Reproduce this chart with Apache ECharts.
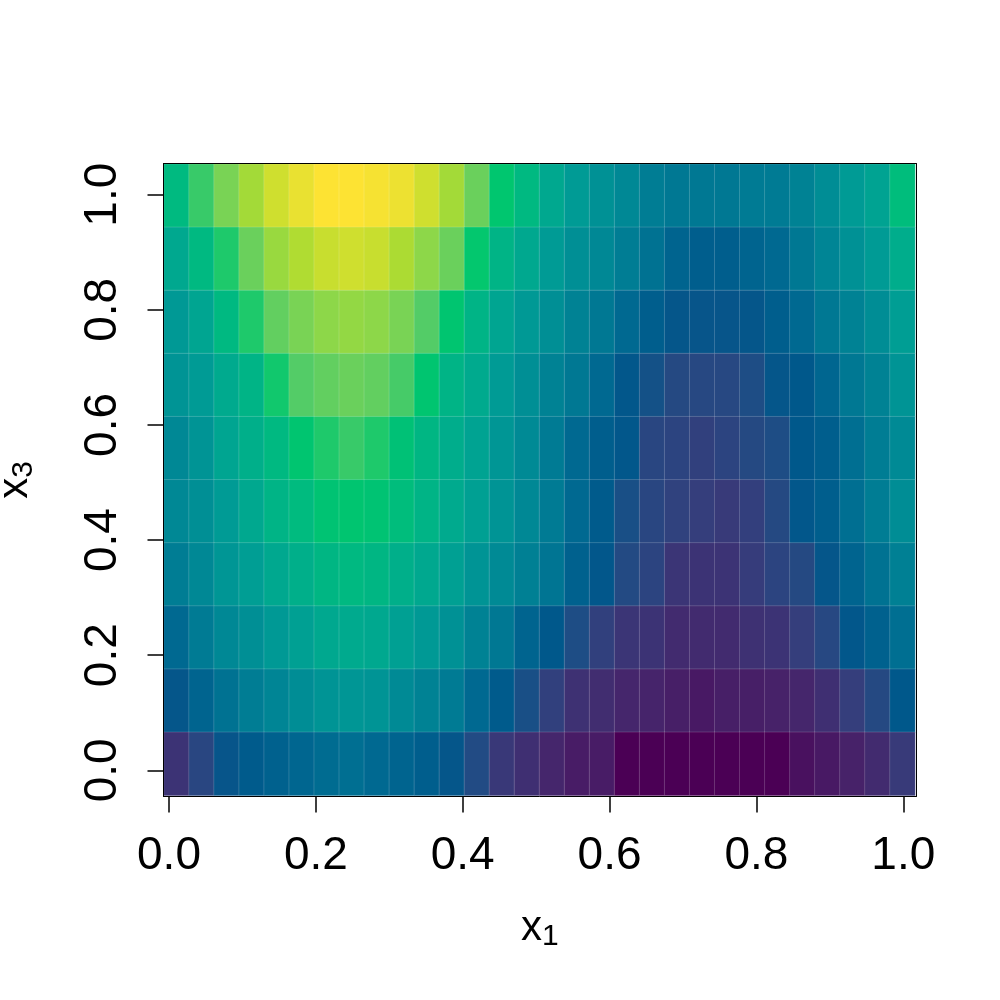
<!DOCTYPE html>
<html>
<head>
<meta charset="utf-8">
<style>html,body{margin:0;padding:0;background:#fff}#c{width:1000px;height:1000px}</style>
<script src="https://cdn.jsdelivr.net/npm/echarts@6/dist/echarts.min.js"></script>
</head>
<body>
<div id="c"></div>
<script>
// cell values, scaled 0..1 along the colour ramp, one array per x3 row (top row first)
const rowTop1 = [.625,.73,.80,.865,.93,.97,1,1,.99,.975,.93,.865,.78,.685,.62,.55,.50,.46,.42,.38,.36,.36,.36,.37,.37,.40,.44,.50,.53,.64];
const rowTop2 = [.55,.62,.71,.78,.85,.885,.92,.93,.92,.88,.83,.78,.69,.60,.55,.50,.45,.42,.38,.34,.29,.27,.27,.29,.31,.36,.41,.46,.50,.57];
const rowTop3 = [.49,.54,.62,.71,.77,.80,.83,.84,.83,.80,.75,.68,.60,.54,.49,.45,.40,.36,.31,.27,.24,.235,.235,.24,.27,.31,.36,.40,.44,.51];
const rowTop4 = [.47,.50,.56,.60,.70,.75,.77,.78,.77,.74,.68,.60,.56,.50,.45,.40,.36,.31,.245,.21,.17,.165,.165,.19,.24,.25,.30,.36,.40,.47];
const rowTop5 = [.42,.47,.54,.58,.62,.68,.71,.73,.71,.66,.61,.57,.53,.48,.43,.37,.31,.27,.245,.16,.15,.135,.15,.17,.19,.25,.27,.33,.38,.43];
const rowTop6 = [.42,.45,.50,.55,.60,.63,.67,.68,.67,.64,.60,.56,.52,.47,.42,.37,.31,.26,.20,.16,.14,.125,.115,.13,.17,.245,.27,.33,.38,.44];
const rowTop7 = [.38,.42,.48,.51,.55,.58,.61,.62,.61,.58,.55,.52,.47,.43,.39,.35,.28,.245,.175,.15,.105,.10,.10,.12,.15,.17,.24,.29,.34,.39];
const rowTop8 = [.31,.37,.42,.45,.49,.52,.55,.56,.55,.52,.49,.46,.40,.36,.29,.25,.19,.135,.105,.10,.08,.08,.08,.095,.10,.125,.165,.245,.28,.33];
const rowTop9 = [.24,.29,.34,.38,.41,.44,.47,.48,.47,.43,.40,.37,.31,.26,.20,.135,.095,.085,.07,.065,.055,.045,.055,.055,.06,.07,.09,.125,.17,.25];
const rowTop10 = [.10,.16,.235,.26,.28,.30,.32,.33,.31,.29,.27,.24,.18,.11,.09,.07,.05,.05,0,0,0,0,0,0,0,.03,.045,.06,.08,.115];
const rows = [rowTop1,rowTop2,rowTop3,rowTop4,rowTop5,rowTop6,rowTop7,rowTop8,rowTop9,rowTop10];

const tickValues = [0,0.2,0.4,0.6,0.8,1];
const rampColors = ['#4B0055','#47236A','#353E7C','#1F4D85','#00588B','#006A91','#007C94','#008C95','#009B95','#00AB8E','#00BA80','#00C76E','#53CC67','#82D551','#A9DB33','#D4DF2E','#FDE333'];

const xCats = rowTop1.map((_, i) => i);
const yCats = rows.map((_, i) => i);
const cells = [];
rows.forEach((r, j) => r.forEach((v, i) => cells.push([i, rows.length - 1 - j, v])));

const font = 'Liberation Sans, Arial, sans-serif';
const tickLabel = {fontFamily: font, fontSize: 46, color: '#000'};
const nameStyle = {
  rich: {
    v: {fontFamily: font, fontSize: 42, color: '#000'},
    s: {fontFamily: font, fontSize: 30, color: '#000', padding: [16, 0, 0, 0]}
  }
};
const hiddenCat = d => ({type: 'category', gridIndex: 0, data: d, show: false, boundaryGap: true});
const frame = (extra, min, max) => Object.assign({
  type: 'value', gridIndex: 1, min, max, z: 20, splitLine: {show: false},
  axisLine: {show: true, onZero: false, lineStyle: {color: '#000', width: 1}},
  axisTick: {show: false}, axisLabel: {show: false}
}, extra);
const xMin = -0.0075, xMax = 1.0173, yMin = -0.0455, yMax = 1.0542;

const chart = echarts.init(document.getElementById('c'), null, {renderer: 'canvas'});
chart.setOption({
  animation: false,
  backgroundColor: '#fff',
  grid: [
    {left: 164, top: 164.2, width: 751, height: 631.2, outerBoundsMode: 'none', containLabel: false},
    {left: 163.5, top: 163.5, width: 752.5, height: 633, outerBoundsMode: 'none', containLabel: false}
  ],
  visualMap: {show: false, min: 0, max: 1, dimension: 2, seriesIndex: 0, inRange: {color: rampColors}},
  xAxis: [
    hiddenCat(xCats),
    frame({
      position: 'bottom', name: '{v|x}{s|1}', nameLocation: 'middle', nameGap: 109, nameTextStyle: nameStyle,
      axisTick: {show: true, length: 16, inside: false, customValues: tickValues, lineStyle: {color: '#000', width: 1.5}},
      axisLabel: {show: true, margin: 37, customValues: tickValues, formatter: v => v.toFixed(1), ...tickLabel}
    }, xMin, xMax),
    frame({position: 'top'}, xMin, xMax)
  ],
  yAxis: [
    hiddenCat(yCats),
    frame({
      position: 'left', name: '{v|x}{s|3}', nameLocation: 'middle', nameGap: 125, nameRotate: 90, nameTextStyle: nameStyle,
      axisTick: {show: true, length: 16, inside: false, customValues: tickValues, lineStyle: {color: '#000', width: 1.5}},
      axisLabel: {show: true, margin: 60, rotate: 90, customValues: tickValues, formatter: v => v.toFixed(1), align: 'center', verticalAlign: 'middle', ...tickLabel}
    }, yMin, yMax),
    frame({position: 'right'}, yMin, yMax)
  ],
  series: [{
    type: 'heatmap', xAxisIndex: 0, yAxisIndex: 0, data: cells,
    itemStyle: {borderColor: 'rgba(255,255,255,0.16)', borderWidth: 1},
    emphasis: {disabled: true}, silent: true, progressive: 0
  }]
});
</script>
</body>
</html>
